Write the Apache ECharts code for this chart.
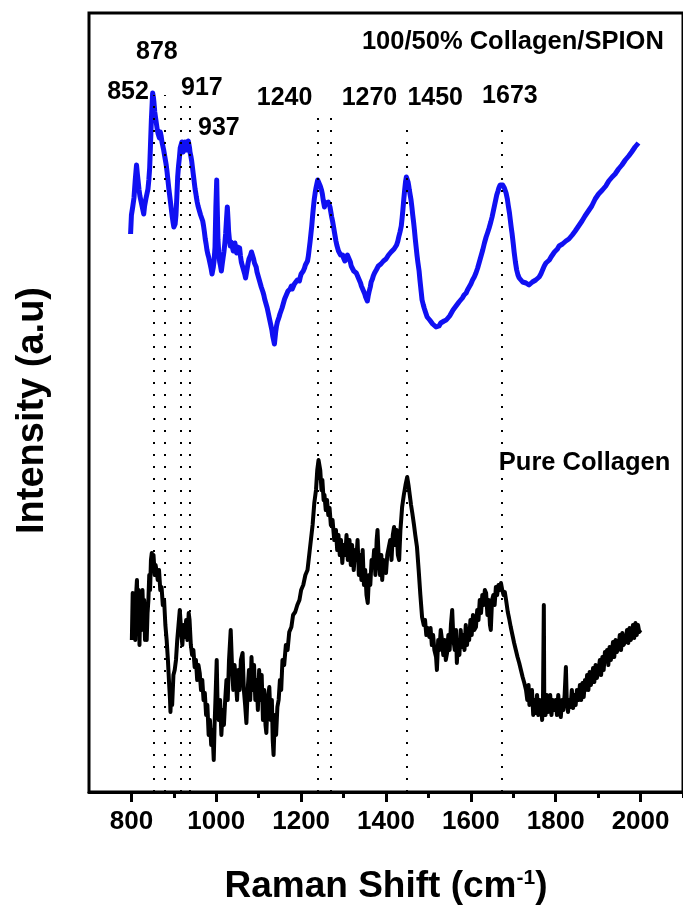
<!DOCTYPE html>
<html>
<head>
<meta charset="utf-8">
<title>Raman spectra: collagen and collagen/SPION</title>
<script src="https://cdn.jsdelivr.net/npm/echarts@6/dist/echarts.min.js"></script>
<style>
  html, body { margin: 0; padding: 0; background: #ffffff; }
  #chart { width: 683px; height: 906px; }
</style>
</head>
<body>
<div id="chart"></div>
<script>
// Assigned Raman bands (cm^-1) and the height the dotted guide reaches for each
const peaks = [852, 878, 917, 937, 1240, 1270, 1450, 1673];
const peakLineTop = [697, 697, 694, 694, 684, 684, 672, 672];

// Axis tick values
const majorTicks = [800, 1000, 1200, 1400, 1600, 1800, 2000];
const minorTicks = [900, 1100, 1300, 1500, 1700, 1900, 2100];

// 100/50% Collagen/SPION spectrum: [shift, intensity (a.u.)]
const spionSpectrum = [
  [798,558],[800,577],[803,585],[806,594],[809,612],[812,627],[814,618],[816,610],[818,602],[820,596],
  [823,590],[825,586],[827,582],[829,578],[831,586],[834,593],[836,597],[839,603],[841,612],[843,624],
  [845,648],[847,672],[849,690],[850,699],[852,694],[853,690],[855,680],[857,674],[859,668],[861,662],
  [863,658],[866,654],[868,660],[870,656],[872,650],[874,648],[876,642],[878,637],[880,632],[882,627],
  [884,620],[886,612],[888,604],[890,597],[892,590],[894,583],[896,576],[898,570],[900,565],[901,563],
  [903,568],[905,577],[907,595],[909,615],[911,626],[913,634],[915,644],[917,646],[919,650],[920,645],
  [922,640],[924,644],[926,650],[928,648],[930,642],[932,646],[934,651],[935,649],[937,644],[938,640],
  [940,636],[942,631],[944,624],[946,617],[948,610],[950,603],[952,598],[953,595],[955,590],[957,586],
  [959,584],[961,580],[963,577],[965,575],[968,571],[970,566],[972,560],[974,553],[976,548],[978,542],
  [980,538],[982,535],[984,531],[986,527],[988,523],[990,518],[991,520],[993,525],[995,532],[997,545],
  [999,585],[1001,612],[1002,590],[1004,552],[1006,538],[1008,530],[1010,526],[1012,521],[1014,528],[1016,534],
  [1018,540],[1020,548],[1022,558],[1024,572],[1026,585],[1028,570],[1029,561],[1031,552],[1033,546],[1035,550],
  [1037,548],[1040,541],[1042,546],[1044,549],[1046,543],[1048,539],[1050,545],[1052,547],[1055,544],[1057,536],
  [1059,530],[1061,527],[1063,524],[1065,521],[1067,518],[1069,514],[1071,519],[1073,524],[1075,529],[1077,533],
  [1079,531],[1081,537],[1083,540],[1086,538],[1088,533],[1090,529],[1092,527],[1094,525],[1096,520],[1098,517],
  [1100,514],[1102,511],[1104,508],[1106,505],[1108,503],[1110,500],[1112,497],[1114,493],[1116,490],[1118,487],
  [1120,484],[1122,480],[1125,474],[1127,470],[1129,466],[1131,462],[1133,456],[1135,452],[1137,448],[1138,452],
  [1140,460],[1142,466],[1144,470],[1146,472],[1148,475],[1150,478],[1153,480],[1155,484],[1157,487],[1159,490],
  [1161,493],[1163,495],[1165,497],[1167,499],[1169,501],[1172,499],[1174,503],[1177,506],[1179,503],[1182,505],
  [1184,508],[1186,510],[1188,508],[1191,512],[1193,513],[1196,511],[1198,515],[1200,518],[1203,519],[1205,521],
  [1208,524],[1210,527],[1213,528],[1215,531],[1217,536],[1219,543],[1221,550],[1223,558],[1225,566],[1227,576],
  [1229,585],[1231,593],[1233,599],[1235,604],[1237,608],[1239,612],[1241,614],[1243,610],[1245,606],[1248,602],
  [1250,598],[1252,592],[1255,585],[1257,589],[1259,588],[1261,591],[1264,590],[1266,588],[1268,585],[1270,580],
  [1272,575],[1274,571],[1276,566],[1278,561],[1280,556],[1282,551],[1284,547],[1286,544],[1288,541],[1290,539],
  [1293,537],[1295,535],[1298,537],[1300,534],[1303,531],[1306,533],[1309,537],[1313,535],[1316,530],[1318,526],
  [1321,524],[1324,521],[1327,522],[1330,519],[1333,516],[1337,512],[1340,509],[1342,506],[1345,503],[1347,501],
  [1350,498],[1352,495],[1354,493],[1356,491],[1358,496],[1360,500],[1363,505],[1365,510],[1368,513],[1370,516],
  [1373,519],[1377,522],[1380,524],[1382,526],[1385,527],[1388,528],[1391,530],[1394,531],[1397,530],[1400,533],
  [1403,535],[1406,537],[1409,538],[1412,540],[1415,541],[1419,543],[1422,545],[1425,547],[1428,551],[1430,555],
  [1433,560],[1436,566],[1438,574],[1440,583],[1442,593],[1444,602],[1446,610],[1448,615],[1450,613],[1452,610],
  [1454,605],[1455,602],[1457,597],[1459,592],[1461,585],[1463,577],[1465,570],[1467,562],[1469,553],[1471,545],
  [1473,537],[1475,530],[1478,521],[1480,512],[1483,500],[1485,492],[1488,487],[1490,484],[1493,480],[1497,475],
  [1500,473],[1503,472],[1507,470],[1510,468],[1514,466],[1518,465],[1521,467],[1525,466],[1529,469],[1533,470],
  [1537,471],[1542,472],[1546,474],[1550,476],[1554,479],[1558,482],[1562,484],[1565,486],[1569,488],[1572,490],
  [1576,492],[1580,494],[1584,497],[1589,499],[1592,502],[1596,505],[1600,508],[1604,512],[1608,515],[1612,519],
  [1616,524],[1620,530],[1624,536],[1628,542],[1632,549],[1636,555],[1640,560],[1643,564],[1647,570],[1650,575],
  [1653,581],[1656,587],[1659,593],[1661,597],[1664,601],[1666,604],[1669,607],[1671,609],[1673,608],[1675,607],
  [1677,606],[1679,604],[1681,602],[1683,599],[1686,593],[1688,587],[1691,579],[1693,572],[1695,565],[1697,559],
  [1700,548],[1702,540],[1705,530],[1708,522],[1711,517],[1714,514],[1718,512],[1722,510],[1726,509],[1730,509],
  [1733,508],[1737,507],[1741,509],[1745,510],[1749,511],[1753,512],[1757,514],[1761,515],[1765,518],[1769,522],
  [1773,526],[1777,529],[1781,531],[1785,532],[1789,535],[1793,537],[1797,540],[1800,542],[1804,543],[1808,546],
  [1812,545],[1816,548],[1820,549],[1824,551],[1828,550],[1831,553],[1835,554],[1839,557],[1843,558],[1846,561],
  [1850,562],[1854,566],[1858,567],[1862,571],[1866,572],[1869,576],[1873,577],[1877,581],[1881,582],[1885,586],
  [1889,588],[1893,593],[1897,594],[1901,598],[1905,598],[1910,602],[1914,602],[1918,606],[1922,607],[1925,611],
  [1929,611],[1933,615],[1937,615],[1940,618],[1944,619],[1948,623],[1952,623],[1956,627],[1960,628],[1964,632],
  [1968,632],[1972,636],[1976,636],[1979,640],[1983,641],[1987,645],[1991,646],[1995,649]
];

// Pure collagen spectrum: [shift, intensity (a.u.)]
const collagenSpectrum = [
  [801,152],[803,199],[805,167],[807,192],[809,152],[811,197],[813,212],[815,172],[817,202],[819,147],
  [821,192],[824,162],[826,202],[828,177],[830,192],[832,152],[834,177],[836,152],[838,179],[840,192],
  [842,217],[844,202],[846,232],[848,239],[850,227],[852,237],[855,217],[857,227],[860,219],[862,212],
  [865,222],[868,202],[871,205],[874,187],[877,192],[880,167],[883,152],[886,132],[889,107],[891,92],
  [892,80],[894,102],[896,87],[899,117],[902,122],[905,132],[908,152],[911,167],[914,182],[917,162],
  [920,147],[923,167],[926,155],[929,172],[932,152],[935,179],[937,172],[940,147],[943,137],[946,142],
  [949,125],[952,132],[955,112],[958,127],[961,119],[964,102],[967,112],[970,92],[973,99],[976,77],
  [979,87],[982,57],[985,72],[988,47],[991,62],[994,32],[996,67],[998,92],[1001,132],[1003,87],
  [1006,72],[1009,92],[1012,57],[1015,82],[1018,67],[1021,92],[1024,112],[1027,92],[1030,132],[1034,162],
  [1037,127],[1040,102],[1043,127],[1046,112],[1049,92],[1052,122],[1055,102],[1058,132],[1062,139],[1065,102],
  [1068,87],[1071,69],[1074,102],[1077,122],[1080,92],[1083,135],[1086,102],[1089,127],[1092,92],[1095,112],
  [1098,82],[1101,122],[1104,92],[1107,117],[1110,72],[1113,102],[1116,67],[1118,59],[1121,92],[1125,105],
  [1128,72],[1131,92],[1133,52],[1135,37],[1138,77],[1141,57],[1144,85],[1147,92],[1150,112],[1153,102],
  [1156,132],[1160,127],[1164,147],[1168,142],[1172,160],[1177,165],[1181,177],[1186,180],[1191,187],[1196,192],
  [1200,202],[1205,207],[1210,217],[1215,222],[1219,237],[1223,252],[1227,267],[1231,289],[1235,302],[1238,322],
  [1241,332],[1243,334],[1245,322],[1248,302],[1250,312],[1253,292],[1255,297],[1258,282],[1261,292],[1264,277],
  [1267,284],[1270,267],[1274,272],[1278,252],[1282,262],[1285,242],[1288,257],[1291,237],[1294,252],[1297,229],
  [1300,247],[1304,237],[1307,257],[1310,232],[1314,252],[1317,227],[1320,247],[1324,222],[1327,242],[1330,232],
  [1333,252],[1336,217],[1339,237],[1342,212],[1345,242],[1348,207],[1351,222],[1354,197],[1357,189],[1360,217],
  [1363,207],[1366,232],[1369,225],[1372,242],[1375,217],[1378,252],[1380,262],[1383,232],[1386,217],[1389,237],
  [1391,212],[1394,232],[1397,222],[1400,219],[1403,237],[1407,235],[1410,252],[1413,232],[1416,257],[1419,265],
  [1422,247],[1425,262],[1428,237],[1431,232],[1434,262],[1438,285],[1442,297],[1446,307],[1450,315],[1453,307],
  [1456,297],[1459,287],[1462,279],[1466,267],[1469,257],[1473,245],[1477,222],[1481,197],[1485,175],[1489,167],
  [1492,172],[1495,157],[1498,164],[1502,155],[1505,164],[1508,147],[1511,157],[1514,142],[1518,135],[1520,122],
  [1523,152],[1526,142],[1529,162],[1532,152],[1535,137],[1538,152],[1541,132],[1544,139],[1547,157],[1550,142],
  [1553,167],[1556,182],[1559,152],[1562,142],[1565,162],[1567,129],[1570,152],[1573,137],[1576,162],[1579,145],
  [1582,157],[1585,142],[1588,167],[1591,147],[1594,162],[1596,152],[1599,172],[1602,157],[1605,177],[1608,162],
  [1612,165],[1615,182],[1618,172],[1621,192],[1624,179],[1627,197],[1630,187],[1633,202],[1636,199],[1639,177],
  [1642,192],[1645,167],[1647,162],[1650,192],[1653,197],[1656,187],[1659,205],[1662,197],[1665,207],[1668,202],
  [1671,209],[1674,202],[1677,197],[1680,200],[1683,192],[1687,180],[1690,174],[1694,165],[1698,157],[1702,149],
  [1706,142],[1710,135],[1714,129],[1718,122],[1722,115],[1726,109],[1730,102],[1733,92],[1736,107],[1738,87],
  [1741,85],[1744,102],[1747,77],[1750,92],[1753,79],[1756,97],[1759,77],[1762,92],[1765,89],[1768,72],
  [1770,92],[1772,187],[1773,92],[1776,77],[1779,97],[1782,80],[1784,85],[1787,97],[1790,77],[1793,92],
  [1796,82],[1800,92],[1803,77],[1806,97],[1809,80],[1812,75],[1815,92],[1818,82],[1821,97],[1824,125],
  [1826,92],[1829,80],[1832,92],[1835,85],[1838,102],[1841,84],[1844,97],[1847,87],[1850,102],[1854,92],
  [1857,107],[1860,92],[1863,109],[1866,95],[1869,112],[1871,102],[1874,117],[1877,102],[1880,120],[1883,107],
  [1885,112],[1888,124],[1891,110],[1894,127],[1897,114],[1901,122],[1904,132],[1907,117],[1910,135],[1913,122],
  [1916,140],[1918,132],[1921,142],[1924,127],[1927,145],[1930,132],[1932,139],[1935,150],[1938,135],[1941,152],
  [1944,140],[1948,145],[1951,157],[1954,142],[1957,159],[1960,147],[1965,152],[1968,162],[1971,149],[1974,164],
  [1977,152],[1979,155],[1982,167],[1985,154],[1988,169],[1991,157],[1994,167],[1997,160],[2000,162]
];

// Where each band label sits, in (shift, intensity) coordinates, same order as peaks
const peakLabelAnchors = [[792,700],[860,740],[966,704],[1006,664],[1161,694],[1361,694],[1516,694],[1692,696]];
const sampleTitles = ['100/50% Collagen/SPION', 'Pure Collagen'];
const sampleTitleAnchors = [[1699,750],[1868,329]];

const FONT = '"Liberation Sans", Arial, Helvetica, sans-serif';
const INK = '#000000';
const chart = echarts.init(document.getElementById('chart'), null, { renderer: 'canvas' });

const guideLines = peaks.map((p, i) => [
  { coord: [p, 0] },
  { coord: [p, peakLineTop[i]] }
]);

const bandLabels = peaks.map((p, i) => ({ name: String(p), value: peakLabelAnchors[i] }));
const titleLabels = sampleTitles.map((t, i) => ({ name: t, value: sampleTitleAnchors[i] }));

const textLabel = size => ({
  show: true, position: 'inside', formatter: p => p.name, opacity: 1,
  fontFamily: FONT, fontWeight: 'bold', fontSize: size, color: INK
});

chart.setOption({
  animation: false,
  backgroundColor: '#ffffff',
  grid: {
    left: 89, top: 13, right: 0, bottom: 114,
    outerBoundsMode: 'none', containLabel: false,
    show: true, borderColor: INK, borderWidth: 3, backgroundColor: 'transparent'
  },
  xAxis: [{
    type: 'value', min: 700, max: 2100, interval: 100,
    axisLine: { show: true, lineStyle: { color: INK, width: 3 } },
    axisTick: { show: true, customValues: majorTicks, length: 10, inside: false, lineStyle: { color: INK, width: 3 } },
    axisLabel: {
      show: true, customValues: majorTicks, margin: 17, formatter: v => String(v),
      color: INK, fontFamily: FONT, fontWeight: 'bold', fontSize: 26
    },
    splitLine: { show: false },
    name: '{t|Raman Shift (cm}{s|-1}{t|)}',
    nameLocation: 'middle', nameGap: 76,
    nameTextStyle: {
      rich: {
        t: { fontFamily: FONT, fontWeight: 'bold', fontSize: 37, color: INK },
        s: { fontFamily: FONT, fontWeight: 'bold', fontSize: 21, color: INK, verticalAlign: 'top', padding: [0, 0, 15, 0] }
      }
    }
  }, {
    type: 'value', min: 700, max: 2100, interval: 100, position: 'bottom',
    axisLine: { show: false },
    axisTick: { show: true, customValues: minorTicks, length: 6, lineStyle: { color: INK, width: 3 } },
    axisLabel: { show: false },
    splitLine: { show: false }
  }],
  yAxis: {
    type: 'value', min: 0, max: 779,
    axisLine: { show: false }, axisTick: { show: false }, axisLabel: { show: false },
    splitLine: { show: false },
    name: 'Intensity (a.u)', nameLocation: 'middle', nameGap: 37,
    nameTextStyle: { fontFamily: FONT, fontWeight: 'bold', fontSize: 38, color: INK, padding: [0, 16, 0, 0] }
  },
  series: [
    {
      name: 'guides', type: 'line', data: [], z: 1,
      markLine: {
        silent: true, symbol: ['none', 'none'], animation: false,
        label: { show: false },
        lineStyle: { color: INK, width: 2, type: [2, 10], opacity: 1 },
        emphasis: { disabled: true },
        data: guideLines
      }
    },
    {
      name: '100/50% Collagen/SPION', type: 'line', data: spionSpectrum, z: 3,
      showSymbol: false, symbol: 'none',
      lineStyle: { color: '#1010f2', width: 5, join: 'round' }
    },
    {
      name: 'Pure Collagen', type: 'line', data: collagenSpectrum, z: 3,
      showSymbol: false, symbol: 'none',
      lineStyle: { color: INK, width: 4, join: 'round' }
    },
    {
      name: 'band labels', type: 'scatter', data: bandLabels, symbolSize: 0, z: 5, silent: true,
      itemStyle: { opacity: 1 },
      label: textLabel(25)
    },
    {
      name: 'sample titles', type: 'scatter', data: titleLabels, symbolSize: 0, z: 5, silent: true,
      itemStyle: { opacity: 1 },
      label: textLabel(25.5)
    }
  ]
});
</script>
</body>
</html>
